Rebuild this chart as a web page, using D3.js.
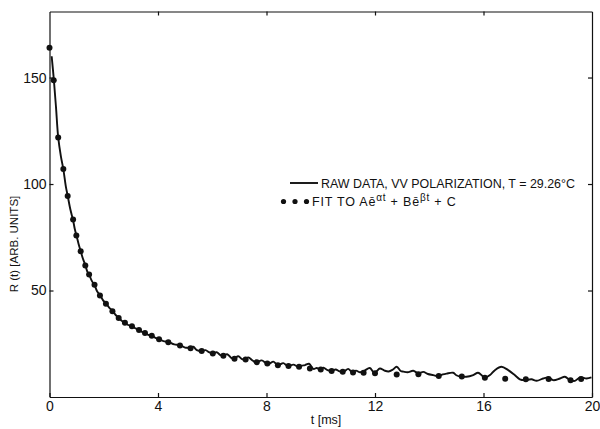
<!DOCTYPE html>
<html>
<head>
<meta charset="utf-8">
<script src="https://cdn.jsdelivr.net/npm/d3@7"></script>
<style>
  html, body { margin: 0; padding: 0; background: #fff; }
  svg { display: block; font-family: "Liberation Sans", Arial, sans-serif; }
</style>
</head>
<body>
<svg id="chart" width="600" height="429"></svg>
<script>
// ---- data ----
const xTicks = [0, 4, 8, 12, 16, 20];
const yTicks = [50, 100, 150];

// raw data trace, VV polarization (t in ms, R(t) arb. units)
const rawT = [0.08,0.16,0.24,0.32,0.42,0.51,0.6,0.67,0.77,0.87,0.93,0.99,1.07,1.15,1.23,1.32,1.39,1.46,1.56,1.66,1.76,1.86,1.97,2.08,2.2,2.32,2.44,2.55,2.66,2.78,2.9,3.04,3.17,3.3,3.41,3.52,3.64,3.77,3.9,4.04,4.2,4.38,4.6,4.81,5.0,5.18,
  5.3,5.43,5.61,5.75,5.9,6.02,6.16,6.3,6.41,6.55,6.7,6.8,6.96,7.1,7.2,7.33,7.5,7.64,7.82,8.0,8.12,8.25,8.4,8.55,8.62,8.8,8.99,9.17,9.3,9.42,9.57,9.73,9.85,9.97,
  10.1,10.25,10.4,10.55,10.7,10.85,11.01,11.15,11.3,11.45,11.6,11.81,11.95,12.05,12.18,12.35,12.5,12.65,12.8,12.95,13.05,13.2,13.41,13.6,13.78,13.95,14.15,14.33,14.5,14.64,14.88,15.0,15.13,15.37,15.62,15.8,15.95,16.05,16.24,16.42,16.66,16.91,17.15,17.34,17.52,17.77,17.96,18.2,18.39,18.57,18.82,19.0,19.19,19.37,19.56,19.8,19.98];
const rawV = [160,149,136,122,113,107,99,94.5,88,83,79,76,72,68.5,65,62,59,57.5,54.5,52.5,49.5,48,45.5,44,42,40.5,38.5,37.2,35.8,35,33.8,33.3,32.2,31.6,30.6,30.2,29.2,29,27.8,27.3,26.2,25.9,24.7,24.4,23.2,23.2,
  23.6,22.0,21.6,22.0,20.9,20.5,21.0,19.7,19.4,20.1,18.4,18.0,19.1,17.8,17.6,18.6,17.0,16.3,17.2,15.8,15.7,16.6,15.1,15.6,15.9,14.5,15.2,14.2,14.7,15.0,15.6,13.2,13.6,13.1,
  13.7,12.6,12.2,12.9,12.0,11.9,13.2,11.8,12.4,11.6,12.3,13.6,11.6,12.0,13.4,12.4,12.0,12.8,14.2,12.2,11.9,11.6,12.3,11.1,11.8,10.8,10.3,9.8,10.6,11.0,11.4,10.2,9.6,9.5,10.3,11.4,10.0,9.0,10.3,12.6,14.2,12.6,10.3,8.3,7.9,8.3,7.6,8.7,9.2,7.9,8.7,9.5,7.9,7.6,9.2,8.7,9.2];

// fit points  A e^-at + B e^-bt + C
const fitT = [0.0,0.155,0.32,0.51,0.67,0.87,0.99,1.15,1.32,1.46,1.66,1.86,2.08,2.32,2.55,2.78,3.04,3.30,3.52,3.77,4.04,4.38,4.81,5.2,5.61,6.02,6.41,6.82,7.23,7.64,8.03,8.42,8.81,9.2,9.6,10.0,10.4,10.81,11.19,11.58,12.0,12.8,13.6,14.35,15.2,16.05,16.8,17.56,18.4,19.21,19.6];
const fitV = [164,148.7,121.8,107,94.4,83.3,75.8,68.4,61.8,57.5,52.7,47.7,43.8,40.3,37.1,34.9,33.2,31.4,30.0,28.8,27.1,25.7,24.2,22.9,21.6,20.4,19.4,18.0,17.6,16.3,15.7,14.9,14.5,14.2,13.4,12.9,12.2,11.8,11.5,11.4,11.1,10.6,10.7,9.9,9.6,9.0,8.6,8.3,8.4,7.9,8.4];

const rawData = rawT.map((t, i) => ({t, v: rawV[i]}));
const fitData = fitT.map((t, i) => ({t, v: fitV[i]}));

// ---- layout ----
const svg = d3.select("#chart");
const mLeft = 49.5, mRight = 592, mTop = 11.5, mBottom = 397;
const x = d3.scaleLinear().domain([0, 20]).range([mLeft, mRight]);
const y = d3.scaleLinear().domain([0, 181]).range([mBottom, mTop]);
const ink = "#111";

// axes (ticks inward on all four sides)
const gB = svg.append("g").attr("transform", `translate(0,${mBottom})`)
  .call(d3.axisBottom(x).tickValues(xTicks).tickSize(-4).tickSizeOuter(0).tickPadding(4).tickFormat(d3.format("d")));
const gT = svg.append("g").attr("transform", `translate(0,${mTop})`)
  .call(d3.axisTop(x).tickValues(xTicks.slice(1, -1)).tickSize(-4).tickSizeOuter(0).tickFormat(""));
const gL = svg.append("g").attr("transform", `translate(${mLeft},0)`)
  .call(d3.axisLeft(y).tickValues(yTicks).tickSize(-4).tickSizeOuter(0).tickPadding(3));
const gR = svg.append("g").attr("transform", `translate(${mRight},0)`)
  .call(d3.axisRight(y).tickValues(yTicks).tickSize(-4).tickSizeOuter(0).tickFormat(""));

[gB, gT, gL, gR].forEach(g => {
  g.selectAll("path.domain").attr("stroke", ink).attr("stroke-width", 1.2);
  g.selectAll(".tick line").attr("stroke", ink).attr("stroke-width", 1.2);
  g.selectAll(".tick text").attr("fill", ink).attr("font-size", 14)
    .attr("font-family", "'Liberation Sans', Arial, sans-serif");
});

// raw data line
svg.append("path")
  .datum(rawData)
  .attr("fill", "none")
  .attr("stroke", ink)
  .attr("stroke-width", 1.9)
  .attr("stroke-linejoin", "round")
  .attr("d", d3.line().x(d => x(d.t)).y(d => y(d.v)).curve(d3.curveCatmullRom.alpha(0.5)));

// fit points
svg.append("g").selectAll("circle")
  .data(fitData)
  .join("circle")
  .attr("cx", d => x(d.t))
  .attr("cy", d => y(d.v))
  .attr("r", 3)
  .attr("fill", ink);

// axis titles
svg.append("text")
  .attr("x", 326).attr("y", 424)
  .attr("text-anchor", "middle")
  .attr("font-size", 12.5)
  .attr("fill", ink)
  .text("t [ms]");

svg.append("text")
  .attr("transform", "translate(18,244) rotate(-90)")
  .attr("text-anchor", "middle")
  .attr("font-size", 11.5)
  .attr("fill", ink)
  .text("R (t) [ARB. UNITS]");

// legend
svg.append("line")
  .attr("x1", 290).attr("x2", 318).attr("y1", 183).attr("y2", 183)
  .attr("stroke", ink).attr("stroke-width", 1.9);
svg.append("text")
  .attr("x", 321).attr("y", 187.5)
  .attr("font-size", 12.5)
  .attr("fill", ink)
  .attr("textLength", 254)
  .attr("lengthAdjust", "spacingAndGlyphs")
  .text("RAW DATA, VV POLARIZATION, T = 29.26°C");

svg.append("g").selectAll("circle")
  .data([283.5, 295, 306.5])
  .join("circle")
  .attr("cx", d => d).attr("cy", 201.5).attr("r", 2.6).attr("fill", ink);

const t2 = svg.append("text")
  .attr("x", 312).attr("y", 206)
  .attr("font-size", 12.5)
  .attr("letter-spacing", 0.8)
  .attr("fill", ink);
t2.append("tspan").text("FIT TO Aē");
t2.append("tspan").attr("dy", -5).attr("font-size", 10).text("αt");
t2.append("tspan").attr("dy", 5).text(" + Bē");
t2.append("tspan").attr("dy", -5).attr("font-size", 10).text("βt");
t2.append("tspan").attr("dy", 5).text(" + C");
</script>
</body>
</html>
